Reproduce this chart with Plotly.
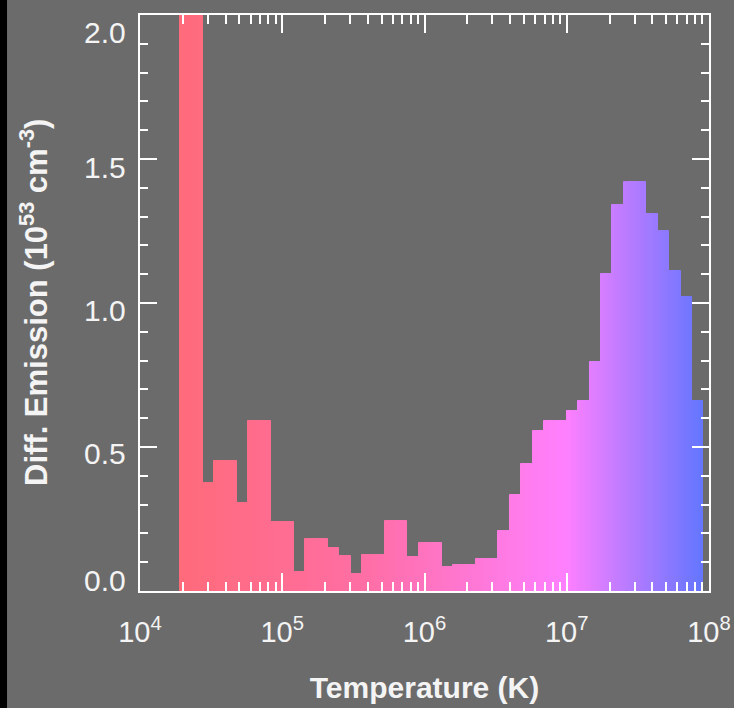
import numpy as np
import plotly.graph_objects as go

# ---------------- data ----------------
log_t_start = 4.28      # left edge of first temperature bin (log10 K)
bin_dlog = 0.08         # bin width (dex)
dem = [2.5, 2.5, 0.374, 0.451, 0.451, 0.305, 0.590, 0.590, 0.240, 0.240,
       0.067, 0.181, 0.181, 0.149, 0.122, 0.058, 0.126, 0.126, 0.244, 0.244,
       0.118, 0.168, 0.168, 0.082, 0.090, 0.090, 0.111, 0.111, 0.210, 0.333,
       0.440, 0.557, 0.591, 0.591, 0.625, 0.660, 0.795, 1.10, 1.34, 1.42,
       1.42, 1.31, 1.25, 1.11, 1.02, 0.66]

x_tick_vals = [4, 5, 6, 7, 8]
x_tick_text = ["10<sup>4</sup>", "10<sup>5</sup>", "10<sup>6</sup>",
               "10<sup>7</sup>", "10<sup>8</sup>"]
y_tick_vals = [0.0, 0.5, 1.0, 1.5, 2.0]
y_tick_text = ["0.0", "0.5", "1.0", "1.5", "2.0"]

x_title = "Temperature (K)"
y_title = "Diff. Emission (10<sup>53</sup> cm<sup>-3</sup>)"

# colour ramp (log T -> rgb)
ramp_log = [4.28, 5.6, 7.0, 7.96]
ramp_r = [255, 255, 255, 100]
ramp_g = [107, 110, 128, 118]
ramp_b = [122, 165, 255, 255]

# ---------------- build ----------------
FONT = "Liberation Sans, Arial, Helvetica, sans-serif"
TXT = "#f4f4f4"
BG = "#6b6b6b"

n_sub = 4
xs, ys, ws, cols = [], [], [], []
for i, v in enumerate(dem):
    lo = log_t_start + i * bin_dlog
    for j in range(n_sub):
        xc = lo + (j + 0.5) * bin_dlog / n_sub
        r = np.interp(xc, ramp_log, ramp_r)
        g = np.interp(xc, ramp_log, ramp_g)
        b = np.interp(xc, ramp_log, ramp_b)
        xs.append(xc)
        ys.append(v)
        ws.append(bin_dlog / n_sub)
        cols.append(f"rgb({r:.0f},{g:.0f},{b:.0f})")

minor_x = [np.log10(k * 10 ** n) for n in range(4, 8) for k in range(2, 10)]

fig = go.Figure()
fig.add_trace(go.Bar(
    x=xs, y=ys, width=ws,
    marker=dict(color=cols, line=dict(color=cols, width=1.0)),
    hoverinfo="skip", showlegend=False,
))

axis_common = dict(
    showgrid=False, zeroline=False, showline=True, linecolor="white",
    linewidth=2, mirror="ticks", ticks="inside", tickcolor="white",
    tickwidth=2, automargin=False,
)

fig.update_layout(
    width=734, height=708, autosize=False,
    margin=dict(l=140, r=25, t=15, b=117),
    paper_bgcolor=BG, plot_bgcolor=BG,
    bargap=0,
    font=dict(family=FONT, color=TXT),
    xaxis=dict(
        range=[4, 8], tickmode="array", tickvals=x_tick_vals,
        ticktext=x_tick_text, ticklen=18, ticklabelstandoff=14,
        tickfont=dict(family=FONT, size=29, color=TXT),
        minor=dict(tickmode="array", tickvals=minor_x, ticks="inside",
                   ticklen=9, tickwidth=2, tickcolor="white"),
        title=dict(text=x_title, standoff=30,
                   font=dict(family=FONT, size=30, color=TXT, weight="bold")),
        **axis_common,
    ),
    yaxis=dict(
        range=[0, 2], tickmode="array", tickvals=y_tick_vals, ticklen=17,
        showticklabels=False,
        minor=dict(dtick=0.1, ticks="inside", ticklen=8, tickwidth=2,
                   tickcolor="white"),
        **axis_common,
    ),
)

# y tick labels (IDL-style placement)
yshifts = [11, -6, -7, -8, -17]
for v, t, s in zip(y_tick_vals, y_tick_text, yshifts):
    fig.add_annotation(x=0, xref="paper", y=v, yref="y", text=t,
                       showarrow=False, xanchor="right", yanchor="middle",
                       xshift=-12, yshift=s,
                       font=dict(family=FONT, size=30, color=TXT))

fig.add_annotation(x=0, xref="paper", y=0.5, yref="paper", text=y_title,
                   textangle=-90, showarrow=False, xanchor="center",
                   yanchor="middle", xshift=-106,
                   font=dict(family=FONT, size=31, color=TXT, weight="bold"))

# black strip at the left edge of the frame
fig.add_shape(type="rect", xref="paper", yref="paper",
              x0=-0.2461, x1=-0.2337, y0=-0.3, y1=1.1,
              fillcolor="black", line=dict(width=0), layer="below")

fig.write_html("out.html",
               config={"displayModeBar": False, "responsive": False},
               post_script="document.body.style.margin='0px';")
